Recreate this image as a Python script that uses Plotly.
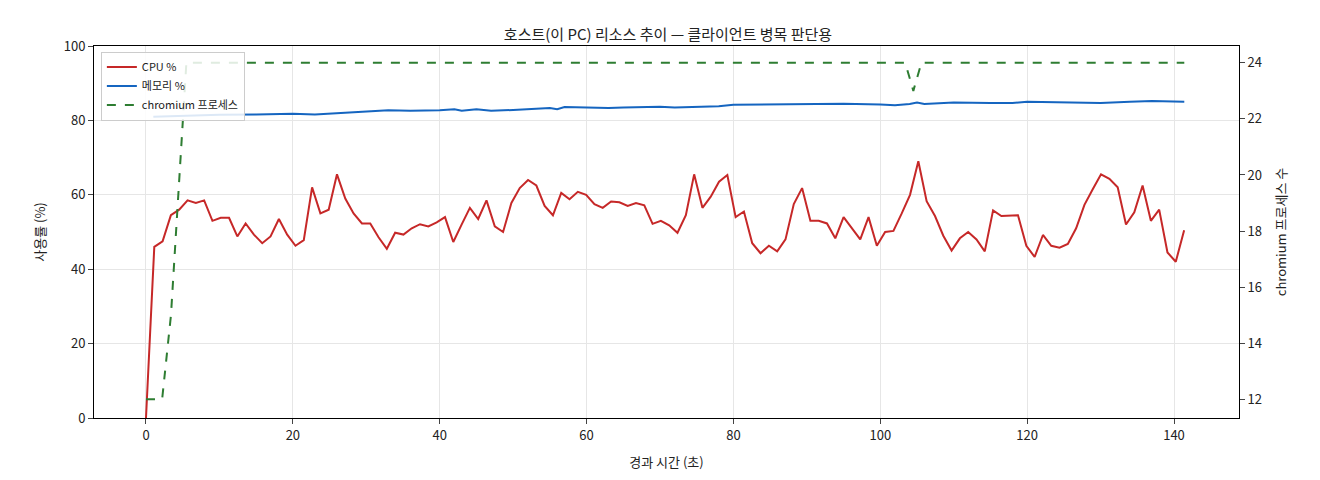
import plotly.graph_objects as go

step = 1.131
cpu = [0,46,47.5,54.5,56,58.5,57.8,58.5,53,53.8,53.8,48.8,52.3,49.3,47,48.8,53.5,49.3,46.3,47.8,
       62,55,56,65.5,59,55,52.3,52.3,48.6,45.5,49.8,49.3,51,52.1,51.5,52.6,54,47.3,52,56.5,
       53.5,58.5,51.5,50,57.8,61.8,64,62.5,57,54.5,60.5,58.8,60.8,60,57.5,56.5,58.2,58,57,57.8,
       57.2,52.2,53,51.8,49.8,54.5,65.5,56.5,59.5,63.5,65.3,54,55.5,47,44.3,46.3,44.8,48,57.5,61.8,
       53,53,52.3,48.3,54,51,48,54,46.3,50,50.3,55,60,69,58.3,54.3,49,45,48.3,50,
       48,44.8,55.8,54.3,54.3,54.5,46.3,43.3,49.2,46.3,45.8,46.8,51,57.3,61.5,65.5,64.3,62,52,55.3,
       62.5,53,56,44.5,42,50.5]
t_cpu = [round(i * step, 2) for i in range(len(cpu))]

t_mem = [1, 5, 10, 15, 20, 23, 25, 28, 30, 33, 36, 40, 42, 43, 45, 47, 50, 53, 55, 56, 57, 60, 63, 65, 70, 72, 75, 78, 80, 85, 90, 95, 100, 102, 104, 105, 106, 108, 110, 115, 118, 120, 125, 130, 134, 137, 141.4]
mem = [81.0, 81.3, 81.5, 81.6, 81.8, 81.6, 81.8, 82.2, 82.5, 82.7, 82.6, 82.7, 83.0, 82.6, 83.0, 82.6, 82.8, 83.1, 83.3, 83.0, 83.6, 83.5, 83.3, 83.5, 83.7, 83.5, 83.7, 83.8, 84.2, 84.3, 84.3, 84.5, 84.3, 84.1, 84.4, 84.8, 84.4, 84.7, 84.8, 84.7, 84.7, 85.0, 84.9, 84.7, 85.0, 85.2, 85.0]

t_proc = [0, 2.2, 3.4, 5.5, 103.4, 104.5, 105.6, 141.4]
proc = [12, 12, 15, 24, 24, 23, 24, 24]

fig = go.Figure()
fig.add_trace(go.Scatter(x=t_cpu, y=cpu, mode="lines", name="CPU %", line=dict(color="#c62828", width=2)))
fig.add_trace(go.Scatter(x=t_mem, y=mem, mode="lines", name="메모리 %", line=dict(color="#1565c0", width=2)))
fig.add_trace(go.Scatter(x=t_proc, y=proc, mode="lines", name="chromium 프로세스", yaxis="y2",
                         line=dict(color="#2e7d32", width=2, dash="dash")))

font = "Noto Sans CJK KR"
fig.update_layout(
    width=1320, height=480, plot_bgcolor="white", paper_bgcolor="white",
    font=dict(family=font, size=13, color="#222"),
    title=dict(text="호스트(이 PC) 리소스 추이 — 클라이언트 병목 판단용", x=0.5, xanchor="center", y=0.955, font=dict(size=15)),
    margin=dict(l=86, r=89, t=38, b=70),
    xaxis=dict(range=[-7.08, 148.85], tickvals=[0,20,40,60,80,100,120,140], showgrid=True, gridcolor="#e6e6e6",
               showline=True, linecolor="black", mirror=True, ticks="outside", zeroline=False,
               title=dict(text="경과 시간 (초)", font=dict(size=13))),
    yaxis=dict(range=[0, 100], tickvals=[0,20,40,60,80,100], showgrid=True, gridcolor="#e6e6e6",
               showline=True, linecolor="black", ticks="outside", zeroline=False,
               title=dict(text="사용률 (%)", font=dict(size=13))),
    yaxis2=dict(overlaying="y", side="right", range=[11.33, 24.6], tickvals=[12,14,16,18,20,22,24],
                showgrid=False, showline=True, linecolor="black", ticks="outside", zeroline=False,
                title=dict(text="chromium 프로세스 수", font=dict(size=13))),
    legend=dict(x=0.006, y=0.985, xanchor="left", yanchor="top", bgcolor="rgba(255,255,255,0.85)",
                bordercolor="#ccc", borderwidth=1, font=dict(size=11)),
    showlegend=True,
)
fig.write_html("out.html")
